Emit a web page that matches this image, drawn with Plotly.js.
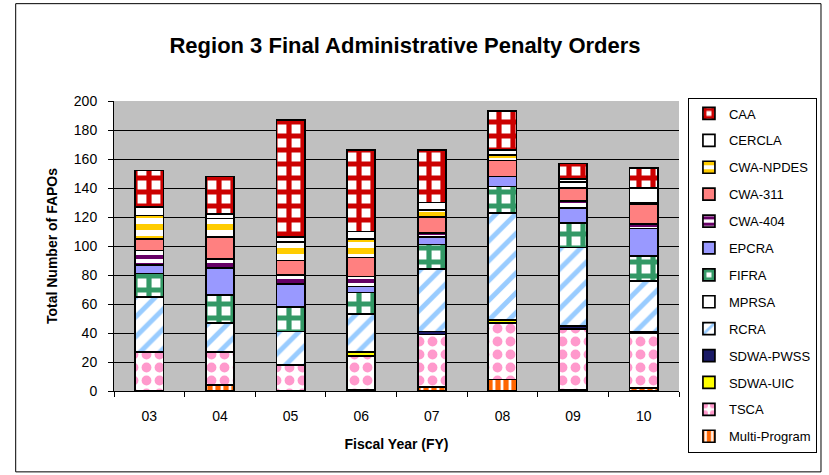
<!DOCTYPE html>
<html>
<head>
<meta charset="utf-8">
<script src="https://cdn.plot.ly/plotly-3.0.1.min.js"></script>
<style>html,body{margin:0;padding:0;background:#fff;}#chart{width:829px;height:475px;}</style>
</head>
<body>
<div id="chart"></div>
<script>
// Fiscal years (categories)
const years = ["03", "04", "05", "06", "07", "08", "09", "10"];

// Series values (stacked bottom to top)
const multiProgram = [0, 4, 0, 1, 3, 8, 1, 2];
const tsca         = [27, 23, 18, 23, 36, 39, 42, 38];
const sdwaUic      = [0, 0, 0, 3, 0, 2, 0, 0];
const sdwaPwss     = [0, 0, 0, 0, 2, 0, 2, 1];
const rcra         = [38, 20, 23, 26, 43, 74, 54, 35];
const mprsa        = [0, 0, 0, 0, 0, 0, 0, 0];
const fifra        = [16, 19, 17, 15, 17, 18, 17, 17];
const epcra        = [6, 19, 16, 4, 5, 7, 10, 19];
const cwa404       = [10, 6, 6, 7, 3, 0, 5, 3];
const cwa311       = [8, 15, 10, 13, 11, 11, 9, 14];
const cwaNpdes     = [16, 13, 13, 13, 5, 4, 4, 1];
const cercla       = [6, 3, 3, 5, 5, 3, 2, 10];
const caa          = [25, 26, 81, 56, 36, 27, 11, 14];

const yTicks = [0, 20, 40, 60, 80, 100, 120, 140, 160, 180, 200];

const FONT = "Arial, 'Liberation Sans', sans-serif";

// legend order: CAA first ... Multi-Program last
function bar(name, values, color, rank, pattern) {
  const marker = { color: color, line: { color: "#000", width: 1.7 } };
  if (pattern) marker.pattern = pattern;
  return {
    type: "bar", name: name, x: years, y: values,
    legendgroup: name, legendrank: rank, marker: marker, hoverinfo: "name+y"
  };
}

const traces = [
  bar("Multi-Program", multiProgram, "#FF6600", 13, { shape: "|", bgcolor: "#FF6600", fgcolor: "#FFFFFF", size: 8, solidity: 0.35 }),
  bar("TSCA", tsca, "#FFFFFF", 12, { shape: ".", bgcolor: "#FFFFFF", fgcolor: "#FF99CC", size: 13, solidity: 0.45 }),
  bar("SDWA-UIC", sdwaUic, "#FFFF00", 11),
  bar("SDWA-PWSS", sdwaPwss, "#1A1A66", 10),
  bar("RCRA", rcra, "#FFFFFF", 9, { shape: "/", bgcolor: "#FFFFFF", fgcolor: "#99CCFF", size: 14, solidity: 0.35 }),
  bar("MPRSA", mprsa, "#FFFFFF", 8),
  bar("FIFRA", fifra, "#FFFFFF", 7, { shape: "+", bgcolor: "#FFFFFF", fgcolor: "#339966", size: 14, solidity: 0.6 }),
  bar("EPCRA", epcra, "#9999FF", 6),
  bar("CWA-404", cwa404, "#FFFFFF", 5, { shape: "-", bgcolor: "#FFFFFF", fgcolor: "#660066", size: 8, solidity: 0.5 }),
  bar("CWA-311", cwa311, "#FF8080", 4),
  bar("CWA-NPDES", cwaNpdes, "#FFFFFF", 3, { shape: "-", bgcolor: "#FFFFFF", fgcolor: "#FFCC00", size: 12, solidity: 0.5 }),
  bar("CERCLA", cercla, "#FFFFFF", 2),
  bar("CAA", caa, "#FFFFFF", 1, { shape: "+", bgcolor: "#FFFFFF", fgcolor: "#CC0000", size: 14, solidity: 0.6 })
];

const plotL = 114, plotR = 683, plotT = 100.5, plotB = 391;
const pw = plotR - plotL, ph = plotB - plotT;
const px = v => (v - plotL) / pw;
const py = v => (plotB - v) / ph;

const layout = {
  width: 829, height: 475,
  margin: { l: plotL, r: 829 - plotR, t: plotT, b: 475 - plotB, pad: 0 },
  paper_bgcolor: "#FFFFFF",
  plot_bgcolor: "#C0C0C0",
  barmode: "stack",
  bargap: 0.6,
  font: { family: FONT, size: 14, color: "#000" },
  title: {
    text: "<b>Region 3 Final Administrative Penalty Orders</b>",
    font: { family: FONT, size: 22, color: "#000" },
    x: 405 / 829, xanchor: "center", xref: "container",
    y: 1 - 45 / 475, yanchor: "middle", yref: "container"
  },
  xaxis: {
    type: "category",
    tickson: "boundaries",
    ticks: "outside", ticklen: 5, tickcolor: "#000", tickwidth: 1,
    showline: true, linecolor: "#000", linewidth: 1,
    showgrid: false,
    ticklabelstandoff: 12,
    tickfont: { family: FONT, size: 14 },
    title: { text: "<b>Fiscal Year (FY)</b>", font: { family: FONT, size: 14 }, standoff: 16 }
  },
  yaxis: {
    range: [0, 200],
    tickvals: yTicks,
    ticks: "outside", ticklen: 5, tickcolor: "#000", tickwidth: 1,
    showline: true, linecolor: "#000", linewidth: 1,
    showgrid: true, gridcolor: "#000", gridwidth: 1,
    zeroline: false,
    ticklabelstandoff: 8,
    tickfont: { family: FONT, size: 14 },
    title: { text: "<b>Total Number of FAPOs</b>", font: { family: FONT, size: 14 }, standoff: 12 }
  },
  showlegend: true,
  legend: {
    x: px(692), xanchor: "left",
    y: py(97), yanchor: "top",
    traceorder: "grouped",
    tracegroupgap: 7,
    maxheight: 440,
    bgcolor: "#FFFFFF",
    bordercolor: "#000", borderwidth: 1,
    font: { family: FONT, size: 13, color: "#000" },
    itemwidth: 30
  },
  shapes: [
    { type: "rect", xref: "paper", yref: "paper",
      x0: px(15), x1: px(826), y0: py(472), y1: py(3),
      line: { color: "#000", width: 1 }, fillcolor: "rgba(0,0,0,0)", layer: "below" }
  ]
};

Plotly.newPlot("chart", traces, layout, { displayModeBar: false, staticPlot: true });
</script>
</body>
</html>
